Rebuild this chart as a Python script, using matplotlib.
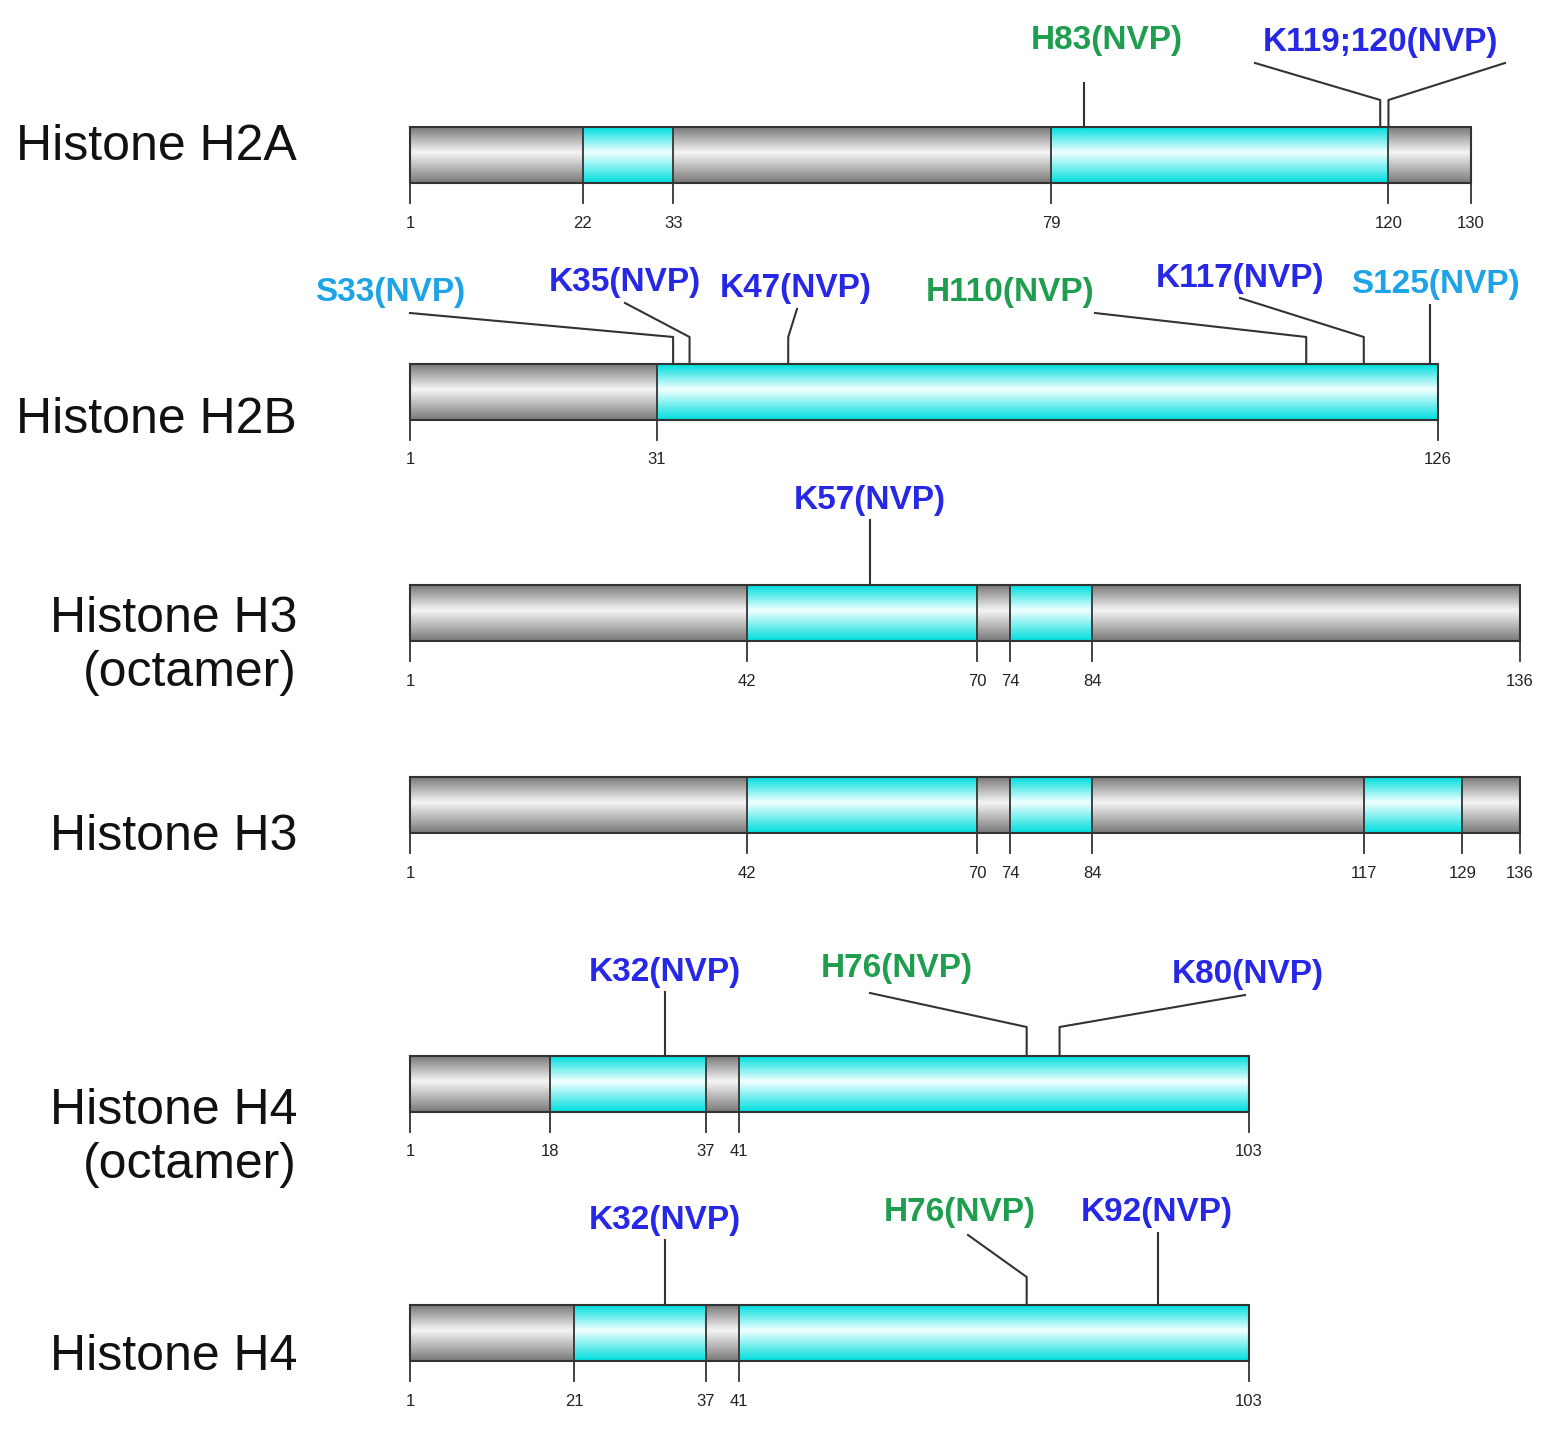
import matplotlib
matplotlib.use("Agg")
import matplotlib.pyplot as plt
import numpy as np
from matplotlib.colors import LinearSegmentedColormap

# ---- data ----
histones = ["Histone H2A", "Histone H2B", "Histone H3\n(octamer)", "Histone H3",
            "Histone H4\n(octamer)", "Histone H4"]
lengths = [130, 126, 136, 136, 103, 103]
cyan_regions = [[(22, 33), (79, 120)],
                [(31, 126)],
                [(42, 70), (74, 84)],
                [(42, 70), (74, 84), (117, 129)],
                [(18, 37), (41, 103)],
                [(21, 37), (41, 103)]]
ticks = [[1, 22, 33, 79, 120, 130],
         [1, 31, 126],
         [1, 42, 70, 74, 84, 136],
         [1, 42, 70, 74, 84, 117, 129, 136],
         [1, 18, 37, 41, 103],
         [1, 21, 37, 41, 103]]
# modification sites: (row, residue, label, kind)
sites = [(0, 83, "H83(NVP)", "g"), (0, 119, "K119;120(NVP)", "b"), (0, 120, None, "b"),
         (1, 33, "S33(NVP)", "c"), (1, 35, "K35(NVP)", "b"), (1, 47, "K47(NVP)", "b"),
         (1, 110, "H110(NVP)", "g"), (1, 117, "K117(NVP)", "b"), (1, 125, "S125(NVP)", "c"),
         (2, 57, "K57(NVP)", "b"),
         (4, 32, "K32(NVP)", "b"), (4, 76, "H76(NVP)", "g"), (4, 80, "K80(NVP)", "b"),
         (5, 32, "K32(NVP)", "b"), (5, 76, "H76(NVP)", "g"), (5, 92, "K92(NVP)", "b")]

# ---- layout ----
W, H = 1564, 1448
PX0, PXR = 410.0, 1110.0 / 135.0
def r2x(px):  # pixel -> residue coordinate
    return (px - PX0) / PXR + 1
bar_top = [127, 364, 585, 777, 1056, 1305]
bar_h = 56
name_y = [147, 420, 646, 837, 1138, 1357]
colors = {"g": "#1e9e4e", "b": "#2727e6", "c": "#1ea3e6"}
label_layout = {
    (0, 83): ((1107, 40), [(None, 83)]),
    (0, 119): ((1380, 42), [(100, None), (1255, 63)]),
    (0, 120): (None, [(100, None), (1505, 63)]),
    (1, 33): ((390, 292), [(337, None), (410, 313)]),
    (1, 35): ((625, 283), [(337, None), (625, 303)]),
    (1, 47): ((796, 288), [(337, None), (797, 309)]),
    (1, 110): ((1010, 292), [(337, None), (1095, 313)]),
    (1, 117): ((1240, 279), [(337, None), (1240, 298)]),
    (1, 125): ((1435, 284), [(None, 305)]),
    (2, 57): ((870, 500), [(None, 520)]),
    (4, 32): ((665, 972), [(None, 992)]),
    (4, 76): ((897, 968), [(1027, None), (870, 993)]),
    (4, 80): ((1248, 975), [(1027, None), (1245, 995)]),
    (5, 32): ((665, 1220), [(None, 1240)]),
    (5, 76): ((960, 1213), [(1277, None), (968, 1235)]),
    (5, 92): ((1157, 1212), [(None, 1233)]),
}

fig = plt.figure(figsize=(W / 100, H / 100), dpi=100)
ax = fig.add_axes([0, 0, 1, 1])
ax.set_xlim(r2x(0), r2x(W))
ax.set_ylim(H, 0)
ax.axis("off")

t = np.linspace(0, 1, 64)
prof = np.interp(t, [0, 0.45, 1], [0.0, 1.0, 0.0]).reshape(-1, 1)
gray_cm = LinearSegmentedColormap.from_list("g", ["#7a7a7a", "#f4f4f4"])
cyan_cm = LinearSegmentedColormap.from_list("c", ["#00dede", "#f0ffff"])

for i in range(len(histones)):
    y0 = bar_top[i]; y1 = y0 + bar_h
    L = lengths[i]
    ax.imshow(prof, cmap=gray_cm, aspect="auto", extent=(1, L, y1, y0), zorder=1)
    for a, b in cyan_regions[i]:
        ax.imshow(prof, cmap=cyan_cm, aspect="auto", extent=(a, b, y1, y0), zorder=2)
    ax.plot([1, L, L, 1, 1], [y0, y0, y1, y1, y0], color="#333333", lw=1.5, zorder=3)
    for tk in ticks[i]:
        ax.plot([tk, tk], [y0, y1 + 20], color="#333333", lw=1.3, zorder=3)
        ax.text(tk, y1 + 40, str(tk), ha="center", va="center", fontsize=12,
                color="#222222", family="Liberation Sans")
    ax.text(r2x(297), name_y[i], histones[i], ha="right", va="center", fontsize=36,
            color="#111111", family="Liberation Sans", linespacing=1.2)

for row, res, lab, kind in sites:
    (lpos, path) = label_layout[(row, res)]
    y0 = bar_top[row]
    xs = [res]; ys = [y0]
    for px, py in path:
        if px is None:
            xs.append(res); ys.append(py)
        elif py is None:
            xs.append(res); ys.append(px)
        else:
            xs.append(r2x(px)); ys.append(py)
    ax.plot(xs, ys, color="#333333", lw=1.5, zorder=3)
    if lab:
        ax.text(r2x(lpos[0]), lpos[1], lab, ha="center", va="center", fontsize=24,
                color=colors[kind], family="Liberation Sans", fontweight="bold")

fig.savefig("out.png", dpi=100)
